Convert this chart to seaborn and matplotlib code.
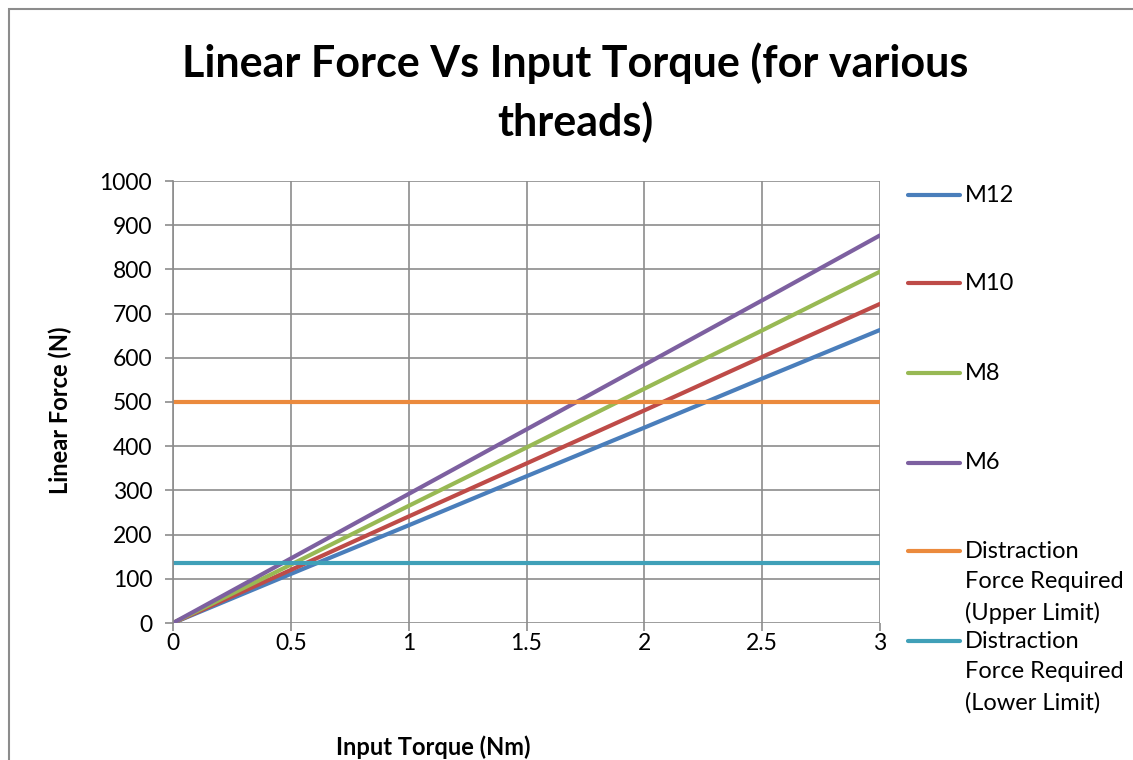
import matplotlib
matplotlib.use("Agg")
import matplotlib.pyplot as plt
import seaborn as sns
import pandas as pd
from matplotlib.lines import Line2D
from matplotlib.patches import Rectangle

torque = [0, 0.5, 1, 1.5, 2, 2.5, 3]
m12 = [0, 111, 221, 332, 442, 553, 663]
m10 = [0, 120, 241, 361, 481, 602, 722]
m8 = [0, 132, 265, 397, 530, 662, 795]
m6 = [0, 146, 292, 438, 584, 730, 877]
upper = [500] * 7
lower = [135] * 7

series_names = ["M12", "M10", "M8", "M6",
                "Distraction\nForce Required\n(Upper Limit)",
                "Distraction\nForce Required\n(Lower Limit)"]
series_vals = [m12, m10, m8, m6, upper, lower]
colors = ["#4A7EBB", "#BE4B48", "#98B954", "#7D60A0", "#EB8A3D", "#40A0B8"]

rows = []
for name, vals in zip(series_names, series_vals):
    for t, v in zip(torque, vals):
        rows.append({"Input Torque (Nm)": t, "Linear Force (N)": v, "Series": name})
df = pd.DataFrame(rows)

sns.set_theme(style="white")
plt.rcParams['font.family'] = ['Lato', 'DejaVu Sans']
plt.rcParams['text.color'] = 'black'

fig = plt.figure(figsize=(11.33, 7.6), dpi=100)
ax = fig.add_axes([173/1133, 1-623/760, (880-173)/1133, (623-181)/760])

sns.lineplot(data=df, x="Input Torque (Nm)", y="Linear Force (N)", hue="Series",
             hue_order=series_names, palette=colors, linewidth=3.0, ax=ax,
             legend=False, solid_capstyle="round")

ax.set_xlim(0, 3)
ax.set_ylim(0, 1000)
ax.set_xticks([0, 0.5, 1, 1.5, 2, 2.5, 3])
ax.set_xticklabels(["0", "0.5", "1", "1.5", "2", "2.5", "3"])
ax.set_yticks(range(0, 1001, 100))
ax.grid(True, color="#8C8C8C", linewidth=1.2)
ax.set_axisbelow(True)
for s in ["top", "right", "bottom"]:
    ax.spines[s].set_visible(False)
ax.spines["left"].set_color("#8C8C8C")
ax.spines["left"].set_linewidth(1.2)
ax.tick_params(axis="both", which="both", direction="out", length=6, width=1.2,
               color="#8C8C8C", labelsize=16.5, labelcolor="black", left=True, bottom=True)
ax.tick_params(axis="x", pad=1.5)
ax.tick_params(axis="y", pad=9)
ax.set_xlabel("")
ax.set_ylabel("")

fig.text(60/1133, 1-410/760, "Linear Force (N)", rotation=90, ha="center", va="center",
         fontsize=17, fontweight="bold")
fig.text(433/1133, 1-747/760, "Input Torque (Nm)", ha="center", va="center",
         fontsize=17, fontweight="bold")
fig.text(575/1133, 1-93/760, "Linear Force Vs Input Torque (for various\nthreads)",
         ha="center", va="center", fontsize=31, fontweight="bold", linespacing=1.5)

# legend drawn manually in figure coordinates
legend_y = [195, 283, 373, 463, 551, 641]
for name, col, yy in zip(series_names, colors, legend_y):
    yf = 1 - yy/760
    fig.add_artist(Line2D([908/1133, 960/1133], [yf, yf], color=col, linewidth=3.0,
                          solid_capstyle="round", transform=fig.transFigure))
    if "\n" in name:
        fig.text(965/1133, yf + 10/760, name, ha="left", va="top", fontsize=17,
                 linespacing=1.55)
    else:
        fig.text(965/1133, yf, name, ha="left", va="center", fontsize=17)

fig.add_artist(Rectangle((9/1133, -0.1), 1.2, 1 - 9/760 + 0.1, fill=False,
                         edgecolor="#8C8C8C", linewidth=1.5, transform=fig.transFigure))

fig.savefig("out.png", dpi=100)
